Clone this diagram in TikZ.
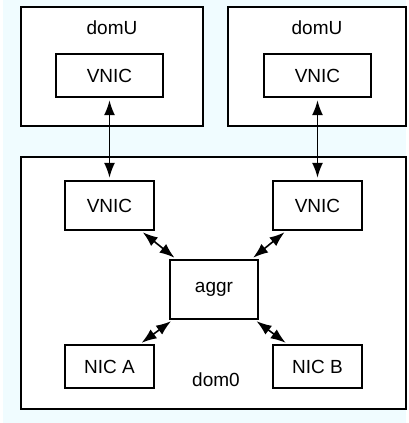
\documentclass[tikz,border=0pt]{standalone}
\usepackage{fontspec}
\setmainfont{Liberation Sans}
\usetikzlibrary{arrows.meta}
\definecolor{bgc}{RGB}{240,252,255}
\tikzset{
  box/.style={draw=black, line width=1.4pt, fill=white, inner sep=0pt, font=\fontsize{19}{22}\selectfont},
  lbl/.style={inner sep=0pt, font=\fontsize{19}{22}\selectfont},
  link/.style={line width=1.6pt, {Latex[length=15pt,width=11pt]}-{Latex[length=15pt,width=11pt]}, shorten <=2.5pt, shorten >=2.5pt}
}
\begin{document}
\begin{tikzpicture}[x=1pt,y=-1pt]
\useasboundingbox (0,0) rectangle (408,423);
\fill[bgc] (3,0) rectangle (406,423);
\node[box, minimum width=182pt, minimum height=119pt] (domUL) at (112,66.5) {};
\node[box, minimum width=178pt, minimum height=119pt] (domUR) at (317,66.5) {};
\node[box, minimum width=385pt, minimum height=252pt] (dom0) at (213.5,283) {};
\node[lbl] (lblUL) at (112,28) {domU};
\node[lbl] (lblUR) at (317,28) {domU};
\node[lbl] (lbl0) at (216,380) {dom0};
\node[box, minimum width=107pt, minimum height=43pt] (vUL) at (109.5,75.5) {VNIC};
\node[box, minimum width=107pt, minimum height=43pt] (vUR) at (317.5,75.5) {VNIC};
\node[box, minimum width=89pt, minimum height=49pt] (v0L) at (109.5,205.5) {VNIC};
\node[box, minimum width=89pt, minimum height=49pt] (v0R) at (317.5,205.5) {VNIC};
\node[box, minimum width=88pt, minimum height=59pt] (aggr) at (214,289.5) {aggr};
\node[box, minimum width=89pt, minimum height=43pt] (nicA) at (109.5,366.5) {NIC A};
\node[box, minimum width=89pt, minimum height=43pt] (nicB) at (317.5,366.5) {NIC B};
\draw[link] (vUL) -- (v0L);
\draw[link] (vUR) -- (v0R);
\draw[link] (v0L) -- (aggr);
\draw[link] (v0R) -- (aggr);
\draw[link] (aggr) -- (nicA);
\draw[link] (aggr) -- (nicB);
\end{tikzpicture}
\end{document}
